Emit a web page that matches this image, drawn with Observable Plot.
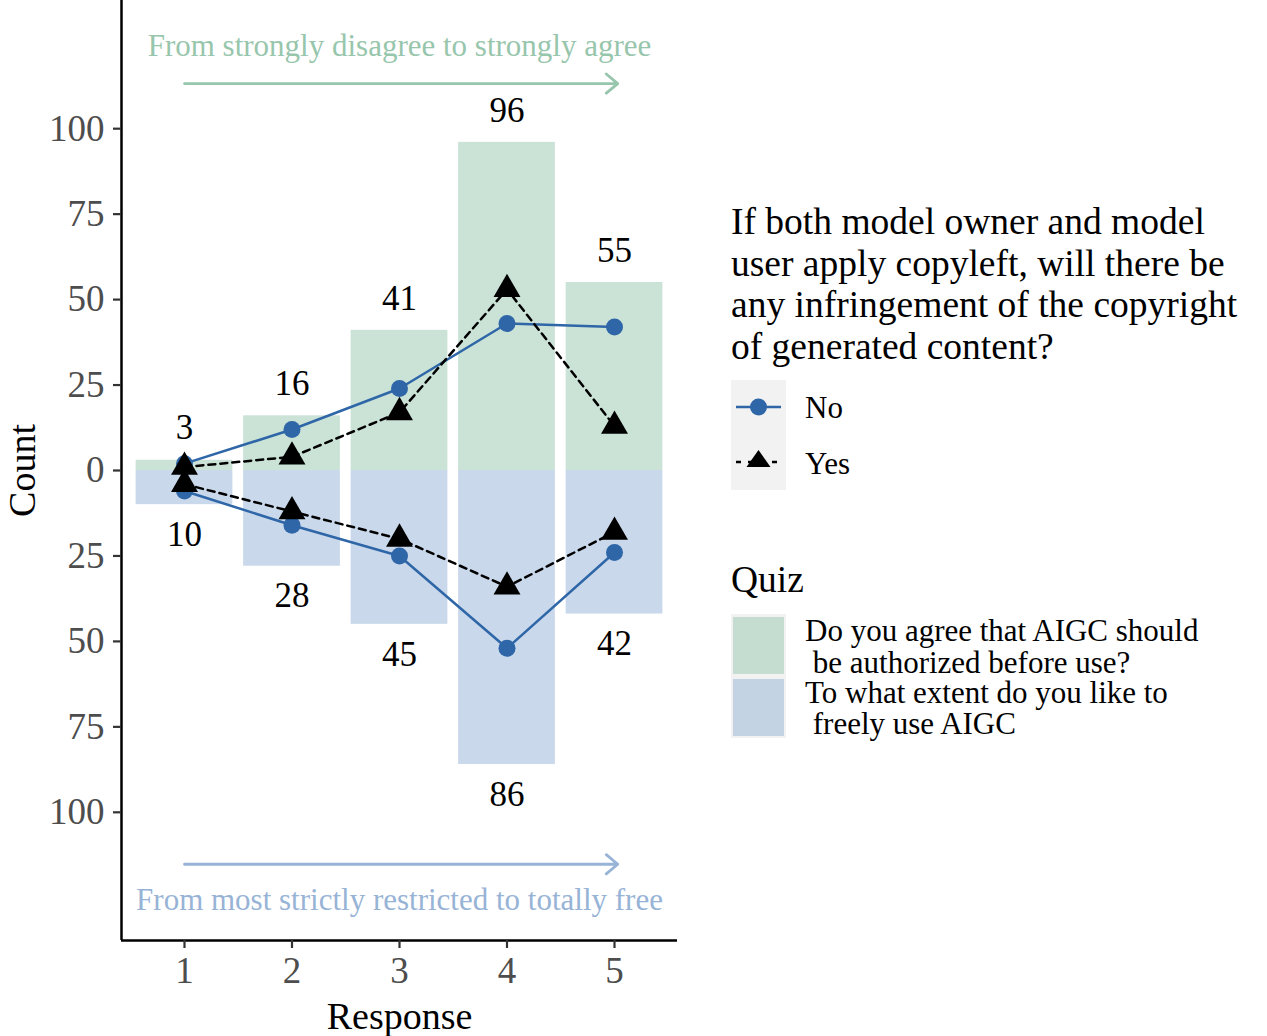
<!DOCTYPE html>
<html><head><meta charset="utf-8">
<script src="https://cdn.jsdelivr.net/npm/d3@7"></script>
<script src="https://cdn.jsdelivr.net/npm/@observablehq/plot@0.6"></script>
<style>
body{margin:0;background:#fff;font-family:"Liberation Serif","Times New Roman",serif;color:#000;}
#wrap{position:relative;width:1267px;height:1036px;overflow:hidden;}
#wrap svg{position:absolute;left:0;top:0;}
.lg{position:absolute;white-space:pre;}
</style></head><body><div id="wrap"></div>
<script>
const responses = [1, 2, 3, 4, 5];
const agreeTotals = [3, 16, 41, 96, 55];
const freeTotals = [10, 28, 45, 86, 42];
const agreeNo = [2, 12, 24, 43, 42];
const agreeYes = [1, 4, 17, 53, 13];
const freeNo = [6, 16, 25, 52, 24];
const freeYes = [4, 12, 20, 34, 18];
const yTicks = [-100, -75, -50, -25, 0, 25, 50, 75, 100];
const groupLabels = ["No", "Yes"];
const quizLabels = ["Do you agree that AIGC should\n be authorized before use?", "To what extent do you like to\n freely use AIGC"];
const legendTitle = "If both model owner and model\nuser apply copyleft, will there be\nany infringement of the copyright\nof generated content?";
const arrowTexts = ["From strongly disagree to strongly agree", "From most strictly restricted to totally free"];
const annotations = [
  {text: arrowTexts[0], x: 3, y: 124.3, x1: 1, x2: 5.03, ya: 113.2, color: "#97c6ac"},
  {text: arrowTexts[1], x: 3, y: -125.7, x1: 1, x2: 5.03, ya: -115.2, color: "#97b3d6"}
];

const greenFill = "#cbe3d7", blueFill = "#c9d8eb";
const blue = "#2e66a7";

const upper = responses.map((r, i) => ({r, v: agreeTotals[i]}));
const lower = responses.map((r, i) => ({r, v: -freeTotals[i]}));
const mk = (arr, s) => responses.map((r, i) => ({r, v: s * arr[i]}));
const noUp = mk(agreeNo, 1), noDn = mk(freeNo, -1), yesUp = mk(agreeYes, 1), yesDn = mk(freeYes, -1);
const X0 = 0.414, X1 = 5.586, Y0 = -137.5, Y1 = 137.5;

const font = "Liberation Serif, Times New Roman, serif";
const chart = Plot.plot({
  width: 700, height: 1036,
  marginLeft: 121, marginRight: 23, marginTop: 0, marginBottom: 96,
  style: {fontFamily: font, background: "transparent", overflow: "visible"},
  x: {domain: [X0, X1]},
  y: {domain: [Y0, Y1]},
  marks: [
    Plot.rectY(upper, {x1: d => d.r - 0.45, x2: d => d.r + 0.45, y1: 0, y2: "v", fill: greenFill}),
    Plot.rectY(lower, {x1: d => d.r - 0.45, x2: d => d.r + 0.45, y1: 0, y2: "v", fill: blueFill}),
    Plot.text(upper, {x: "r", y: "v", text: d => String(Math.abs(d.v)), dy: -32, fontSize: 35, fill: "black"}),
    Plot.text(lower, {x: "r", y: "v", text: d => String(Math.abs(d.v)), dy: 30, fontSize: 35, fill: "black"}),
    Plot.line(noUp, {x: "r", y: "v", stroke: blue, strokeWidth: 2.5}),
    Plot.line(noDn, {x: "r", y: "v", stroke: blue, strokeWidth: 2.5}),
    Plot.dot(noUp, {x: "r", y: "v", fill: blue, r: 8.5}),
    Plot.dot(noDn, {x: "r", y: "v", fill: blue, r: 8.5}),
    Plot.line(yesUp, {x: "r", y: "v", stroke: "black", strokeWidth: 2.5, strokeDasharray: "7,5"}),
    Plot.line(yesDn, {x: "r", y: "v", stroke: "black", strokeWidth: 2.5, strokeDasharray: "7,5"}),
    Plot.dot(yesUp, {x: "r", y: "v", fill: "black", symbol: "triangle", r: 10}),
    Plot.dot(yesDn, {x: "r", y: "v", fill: "black", symbol: "triangle", r: 10}),
    Plot.arrow(annotations, {x1: "x1", x2: "x2", y1: "ya", y2: "ya", stroke: "color", strokeWidth: 2.8, headLength: 8, headAngle: 80, bend: 0}),
    Plot.text(annotations, {x: "x", y: "y", text: "text", fill: "color", fontSize: 31}),
    Plot.ruleX([X0], {stroke: "black", strokeWidth: 2.5}),
    Plot.ruleY([Y0], {stroke: "black", strokeWidth: 2.5}),
    Plot.axisY({ticks: yTicks, tickFormat: d => String(Math.abs(d)), tickSize: 8, tickPadding: 9, fontSize: 37, fill: "#4d4d4d", stroke: "#333", strokeWidth: 2.2, label: null}),
    Plot.axisX({ticks: responses, tickFormat: d => String(d), tickSize: 8, tickPadding: 8, fontSize: 37, fill: "#4d4d4d", stroke: "#333", strokeWidth: 2.2, label: null}),
    Plot.text(["Count"], {frameAnchor: "left", textAnchor: "middle", lineAnchor: "middle", dx: -99, rotate: -90, fontSize: 38, fill: "black"}),
    Plot.text(["Response"], {frameAnchor: "bottom", textAnchor: "middle", lineAnchor: "middle", dy: 76, fontSize: 38, fill: "black"})
  ]
});
const wrap = document.getElementById("wrap");
wrap.appendChild(chart);

function div(text, css) {
  const d = document.createElement("div");
  d.className = "lg";
  d.textContent = text;
  Object.assign(d.style, css);
  wrap.appendChild(d);
  return d;
}
div(legendTitle, {left: "731px", top: "201px", fontSize: "37.5px", lineHeight: "41.5px"});
const ns = "http://www.w3.org/2000/svg";
const k = document.createElementNS(ns, "svg");
k.setAttribute("width", 1267); k.setAttribute("height", 1036);
k.style.position = "absolute"; k.style.left = "0"; k.style.top = "0";
k.innerHTML = `
<rect x="731" y="380" width="55" height="110" fill="#f2f2f2"/>
<line x1="736" x2="781" y1="407" y2="407" stroke="${blue}" stroke-width="2.5"/>
<circle cx="758.5" cy="407" r="8.5" fill="${blue}"/>
<line x1="736" x2="781" y1="462" y2="462" stroke="black" stroke-width="2.5" stroke-dasharray="5,7" stroke-dashoffset="0"/>
<path d="M758.5,450 L770.5,467 L746.5,467 Z" fill="black"/>
<rect x="731" y="614" width="55" height="124" fill="#f2f2f2"/>
<rect x="733" y="617" width="51" height="57" fill="#c5dcd0"/>
<rect x="733" y="679" width="51" height="57" fill="#c3d3e3"/>`;
wrap.appendChild(k);
div(groupLabels[0], {left: "805px", top: "389px", fontSize: "31px", lineHeight: "38px"});
div(groupLabels[1], {left: "805px", top: "445px", fontSize: "31px", lineHeight: "38px"});
div("Quiz", {left: "731px", top: "558px", fontSize: "37.5px", lineHeight: "44px"});
div(quizLabels[0], {left: "805px", top: "615px", fontSize: "31px", lineHeight: "32px"});
div(quizLabels[1], {left: "805px", top: "677px", fontSize: "31px", lineHeight: "31px"});
</script></body></html>
